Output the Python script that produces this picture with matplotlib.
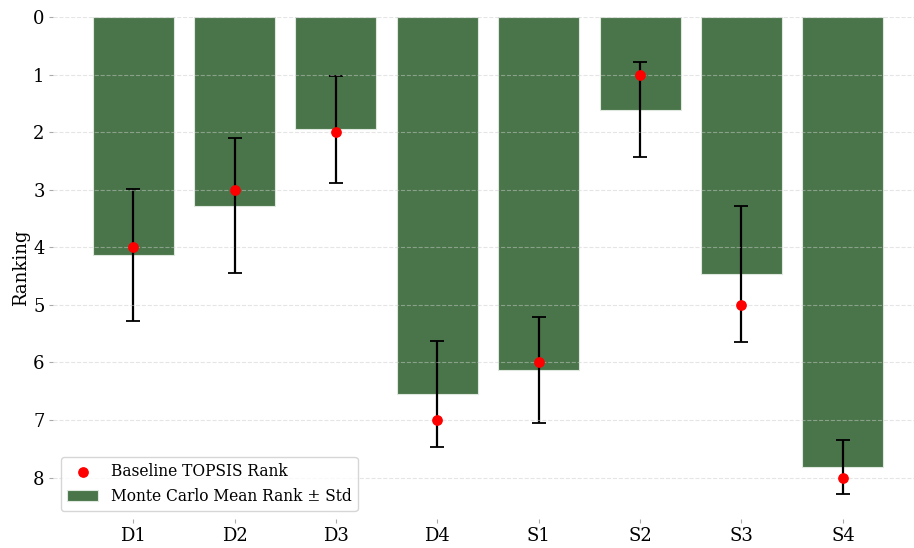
import numpy as np
import matplotlib.pyplot as plt

# alternatives and rankings
labels = ['D1', 'D2', 'D3', 'D4', 'S1', 'S2', 'S3', 'S4']
baseline_rank = [4, 3, 2, 7, 6, 1, 5, 8]
mc_mean = [4.13, 3.28, 1.95, 6.55, 6.13, 1.61, 4.47, 7.82]
mc_std = [1.15, 1.17, 0.93, 0.92, 0.92, 0.82, 1.18, 0.47]

plt.rcParams['font.family'] = ['DejaVu Serif']

fig = plt.figure(figsize=(9.14, 5.48), dpi=100)
ax = fig.add_axes([53 / 914, 29 / 548, 870 / 914, 502 / 548])

x = np.arange(len(labels))

bars = ax.bar(x, mc_mean, width=0.8, color='#4a754a', edgecolor='#dfe8df',
              linewidth=0.8, yerr=mc_std, capsize=5,
              error_kw=dict(ecolor='black', elinewidth=1.6, capthick=1.3),
              label='Monte Carlo Mean Rank \u00b1 Std', zorder=2)
dots = ax.scatter(x, baseline_rank, color='red', s=45, zorder=4,
                  label='Baseline TOPSIS Rank')

ax.set_xticks(x)
ax.set_xticklabels(labels)
ax.set_xlim(-0.79, 7.79)
ax.set_ylim(8.72, 0)
ax.set_yticks(range(9))
ax.set_ylabel('Ranking', fontsize=13, labelpad=2)

ax.tick_params(axis='both', labelsize=13, length=3, color='#aaaaaa', pad=3)
for s in ax.spines.values():
    s.set_visible(False)
ax.yaxis.grid(True, linestyle='--', color='#cccccc', alpha=0.5, linewidth=0.8, zorder=3)
ax.set_axisbelow(False)

ax.legend(handles=[dots, bars], loc='lower left', fontsize=11.2,
          bbox_to_anchor=(0.0, 0.0), borderaxespad=0.5, framealpha=0.8)

fig.savefig('out.png', dpi=100)
